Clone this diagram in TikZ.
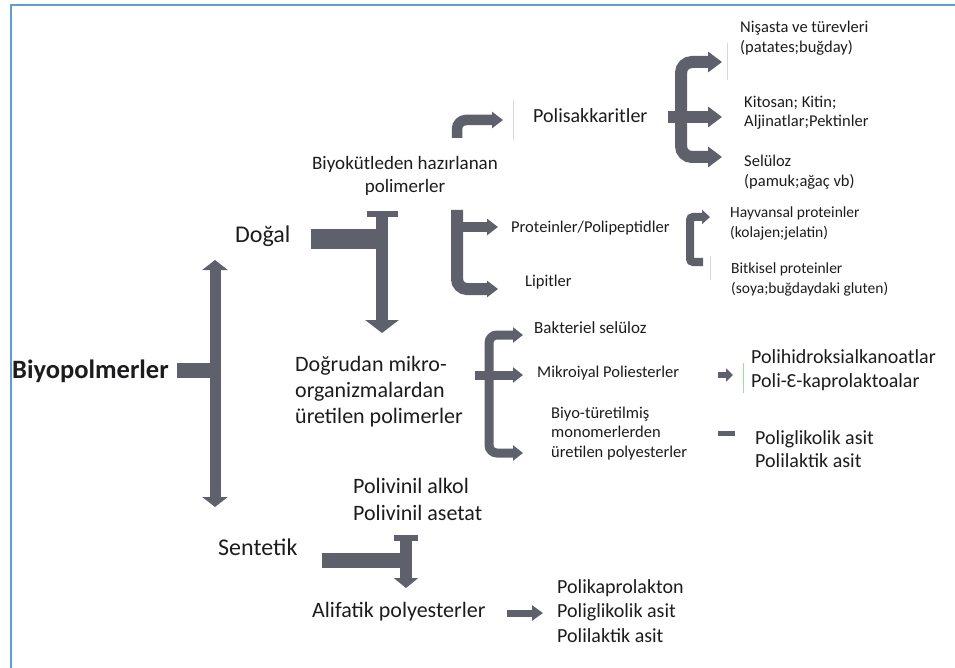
\documentclass[tikz,border=0pt]{standalone}
\usepackage{fontspec}
\setmainfont{Carlito}
\usetikzlibrary{arrows.meta}
\definecolor{barc}{RGB}{94,96,108}
\definecolor{txt}{RGB}{28,28,30}
\definecolor{framec}{RGB}{96,156,214}
\definecolor{faintc}{RGB}{215,215,218}

\begin{document}
\begin{tikzpicture}[x=1pt, y=-1pt,
  lbl/.style={anchor=base west, align=left, inner sep=0pt, text=txt},
  bar/.style={draw=barc, line width=#1},
  fs/.style 2 args={font=\fontsize{#1}{#2}\selectfont}]
\useasboundingbox (0,0) rectangle (955,668);
\draw[framec, line width=2pt] (11,668) -- (11,5) -- (955,5);
\draw[faintc, line width=0.8pt] (513,100) -- (513,140);
\draw[faintc, line width=0.8pt] (727,43) -- (727,80);
\draw[faintc, line width=0.8pt] (710,256) -- (710,280);
\draw[faintc!70!green, line width=0.8pt] (743,363) -- (743,393);

\node (bio) [lbl, font=\fontsize{26.5}{30}\selectfont\bfseries] at (12,378) {Biyopolmerler};
\node (dogal) [lbl, fs={24}{28}] at (235,243) {Doğal};
\node (biyok) [lbl, fs={19}{23}, anchor=base, align=center] at (405,193) {Biyokütleden hazırlanan\\polimerler};
\node (polis) [lbl, fs={20}{24}] at (533,123) {Polisakkaritler};
\node (nisasta) [lbl, fs={16.5}{20}] at (740,53) {Nişasta ve türevleri\\(patates;buğday)};
\node (kitosan) [lbl, fs={16.5}{19.5}] at (744,127) {Kitosan; Kitin;\\Aljinatlar;Pektinler};
\node (seluloz) [lbl, fs={16.5}{20}] at (744,187) {Selüloz\\(pamuk;ağaç vb)};
\node (protein) [lbl, fs={16.5}{20}] at (511,233) {Proteinler/Polipeptidler};
\node (lipit) [lbl, fs={16.5}{20}] at (525,287) {Lipitler};
\node (hayvan) [lbl, fs={15.5}{20}] at (730,238) {Hayvansal proteinler\\(kolajen;jelatin)};
\node (bitki) [lbl, fs={15.5}{20}] at (731,293) {Bitkisel proteinler\\(soya;buğdaydaki gluten)};
\node (dogrudan) [lbl, fs={22}{26}] at (295,423) {Doğrudan mikro-\\organizmalardan\\üretilen polimerler};
\node (bakteri) [lbl, fs={17}{20}] at (534,333) {Bakteriel selüloz};
\node (mikro) [lbl, fs={16.5}{20}] at (537,377) {Mikroiyal Poliesterler};
\node (biyotur) [lbl, fs={16.5}{19.5}] at (551,457) {Biyo-türetilmiş\\monomerlerden\\üretilen polyesterler};
\node (pha) [lbl, fs={20}{24}] at (751,387) {Polihidroksialkanoatlar\\Poli-Ɛ-kaprolaktoalar};
\node (pga) [lbl, fs={20}{23}] at (755,467) {Poliglikolik asit\\Polilaktik asit};
\node (vinil) [lbl, fs={22}{27}] at (353,520) {Polivinil alkol\\Polivinil asetat};
\node (sentetik) [lbl, fs={24}{28}] at (218,555) {Sentetik};
\node (alifatik) [lbl, fs={22}{26}] at (312,617) {Alifatik polyesterler};
\node (pcl) [lbl, fs={20}{24.5}] at (557,642) {Polikaprolakton\\Poliglikolik asit\\Polilaktik asit};

\coordinate (m) at (215,370);
\coordinate (mtop) at (215,260);
\coordinate (mbot) at (215,507);
\draw[bar=15pt] ([xshift=8pt]bio.east |- m) -- ([xshift=5pt]m);
\draw[bar=11pt, {Triangle[length=10pt,width=25pt]}-{Triangle[length=10pt,width=25pt]}] (mtop) -- (mbot);

\coordinate (d) at (382,239);
\coordinate (dtop) at (382,211);
\coordinate (dbot) at (382,333);
\draw[bar=20pt] ([xshift=20pt]dogal.east |- d) -- ([xshift=6pt]d);
\draw[bar=12pt, {Rectangle[length=6pt,width=31pt]}-{Triangle[length=13pt,width=33pt]}] (dtop) -- (dbot);

\coordinate (b1) at (457,138);
\coordinate (b1e) at (503,120);
\draw[bar=10.5pt, rounded corners=9pt, -{Triangle[length=11pt,width=16pt]}] (b1) |- (b1e);
\coordinate (b2) at (457,210);
\coordinate (b2m) at (457,227);
\coordinate (b2e) at (498,227);
\coordinate (b3e) at (498,289);
\draw[bar=12pt, rounded corners=10pt, -{Triangle[length=11pt,width=16pt]}] (b2) |- (b3e);
\draw[bar=10pt, -{Triangle[length=11pt,width=16pt]}] (b2m) -- (b2e);

\coordinate (p1) at (722,62);
\coordinate (p2) at (681,157);
\coordinate (p3) at (722,157);
\coordinate (pin) at (668,117);
\coordinate (pm) at (722,117);
\draw[bar=12pt, rounded corners=11pt, {Triangle[length=14pt,width=20pt]}-{Triangle[length=14pt,width=20pt]}] (p1) -| (p2) -- (p3);
\draw[bar=12pt, -{Triangle[length=14pt,width=20pt]}] (pin) -- (pm);

\coordinate (h1) at (703,262);
\coordinate (h2) at (690,217);
\coordinate (h3) at (710,217);
\draw[bar=8pt, rounded corners=3pt, -{Triangle[length=8pt,width=14pt]}] (h1) -| (h2) -- (h3);

\coordinate (g1) at (523,335);
\coordinate (g2) at (489,453);
\coordinate (g3) at (523,453);
\coordinate (gin) at (475,375);
\coordinate (gm) at (523,375);
\draw[bar=9pt, rounded corners=8pt, {Triangle[length=10pt,width=15pt]}-{Triangle[length=10pt,width=15pt]}] (g1) -| (g2) -- (g3);
\draw[bar=9pt, -{Triangle[length=10pt,width=15pt]}] (gin) -- (gm);

\coordinate (k1) at (718,375);
\coordinate (k2) at (733,375);
\draw[bar=6pt, -{Triangle[length=7pt,width=13pt]}] (k1) -- (k2);
\coordinate (l1) at (718,433);
\coordinate (l2) at (735,433);
\draw[bar=5pt] (l1) -- (l2);

\coordinate (s) at (406,560);
\coordinate (stop) at (406,535);
\coordinate (sbot) at (406,588);
\draw[bar=15pt] ([xshift=24pt]sentetik.east |- s) -- ([xshift=6pt]s);
\draw[bar=12pt, {Rectangle[length=6pt,width=24pt]}-{Triangle[length=10pt,width=24pt]}] (stop) -- (sbot);

\coordinate (a1) at (507,613);
\coordinate (a2) at (543,613);
\draw[bar=7pt, -{Triangle[length=11pt,width=15pt]}] (a1) -- (a2);
\end{tikzpicture}
\end{document}
